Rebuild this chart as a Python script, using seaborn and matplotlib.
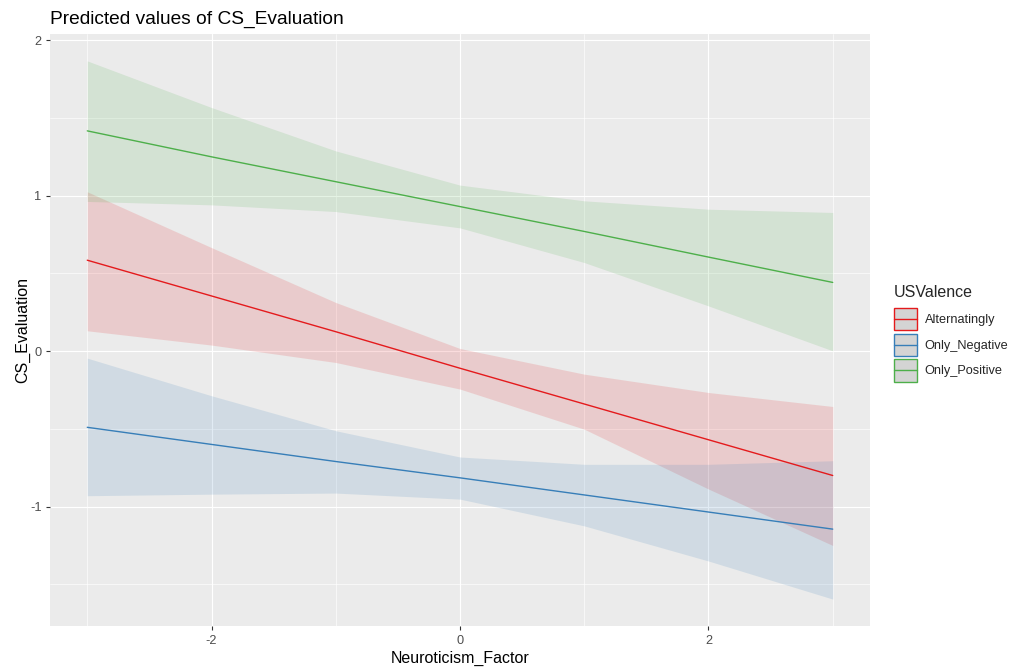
import numpy as np
import pandas as pd
import seaborn as sns
import matplotlib
matplotlib.use("Agg")
import matplotlib.pyplot as plt
from matplotlib.patches import Rectangle
from matplotlib.lines import Line2D
from matplotlib.legend_handler import HandlerBase
from matplotlib.ticker import FixedLocator

# Predicted values with 95% confidence bands, evaluated at integer factor levels
neuroticism = [-3, -2, -1, 0, 1, 2, 3]
groups = ["Alternatingly", "Only_Negative", "Only_Positive"]

pred_alt = [0.585, 0.355, 0.125, -0.110, -0.340, -0.570, -0.800]
low_alt = [0.131, 0.039, -0.073, -0.244, -0.502, -0.887, -1.250]
high_alt = [1.025, 0.666, 0.313, 0.017, -0.148, -0.266, -0.356]

pred_neg = [-0.490, -0.600, -0.710, -0.815, -0.925, -1.035, -1.145]
low_neg = [-0.930, -0.920, -0.913, -0.952, -1.124, -1.350, -1.595]
high_neg = [-0.045, -0.287, -0.512, -0.681, -0.728, -0.728, -0.705]

pred_pos = [1.417, 1.250, 1.090, 0.930, 0.770, 0.605, 0.442]
low_pos = [0.963, 0.941, 0.898, 0.793, 0.570, 0.291, 0.002]
high_pos = [1.867, 1.567, 1.288, 1.068, 0.967, 0.913, 0.892]

colors = {"Alternatingly": "#E41A1C", "Only_Negative": "#377EB8", "Only_Positive": "#4DAF4A"}

frames = []
for g, p, lo, hi in zip(groups,
                        [pred_alt, pred_neg, pred_pos],
                        [low_alt, low_neg, low_pos],
                        [high_alt, high_neg, high_pos]):
    frames.append(pd.DataFrame({"Neuroticism_Factor": neuroticism, "USValence": g,
                                "predicted": p, "conf_low": lo, "conf_high": hi}))
df = pd.concat(frames, ignore_index=True)


class RibbonKey(HandlerBase):
    """Legend key: grey box outlined in the group colour, with the line across it."""

    def create_artists(self, legend, orig_handle, xdescent, ydescent, width,
                       height, fontsize, trans):
        col = orig_handle.get_color()
        rect = Rectangle((-xdescent, -ydescent), width, height,
                         facecolor="#D4D4D4", edgecolor=col, lw=1.0,
                         transform=trans)
        yc = -ydescent + height / 2
        line = Line2D([-xdescent, -xdescent + width], [yc, yc], color=col,
                      lw=1.0, transform=trans)
        return [rect, line]


sns.set_theme(style="darkgrid")
plt.rcParams["font.family"] = ["Liberation Sans", "DejaVu Sans"]
plt.rcParams["axes.unicode_minus"] = False

fig = plt.figure(figsize=(10.11, 6.70), dpi=100)
ax = fig.add_axes([50 / 1011, 1 - 626 / 670, 820 / 1011, 592 / 670])
ax.set_facecolor("#EBEBEB")

# confidence ribbons
for g in groups:
    sub = df[df["USValence"] == g]
    ax.fill_between(sub["Neuroticism_Factor"], sub["conf_low"], sub["conf_high"],
                    color=colors[g], alpha=0.15, lw=0, zorder=2)

# predicted lines
sns.lineplot(data=df, x="Neuroticism_Factor", y="predicted", hue="USValence",
             hue_order=groups, palette=colors, estimator=None, legend=False,
             lw=1.0, ax=ax, zorder=3)

# axis ranges with 5% padding
xmin, xmax = min(neuroticism), max(neuroticism)
xpad = 0.05 * (xmax - xmin)
ymin, ymax = df["conf_low"].min(), df["conf_high"].max()
ypad = 0.05 * (ymax - ymin)
ax.set_xlim(xmin - xpad, xmax + xpad)
ax.set_ylim(ymin - ypad, ymax + ypad)

ax.xaxis.set_major_locator(FixedLocator([-2, 0, 2]))
ax.xaxis.set_minor_locator(FixedLocator([-3, -1, 1, 3]))
ax.yaxis.set_major_locator(FixedLocator([-1, 0, 1, 2]))
ax.yaxis.set_minor_locator(FixedLocator([-1.5, -0.5, 0.5, 1.5]))
ax.grid(which="major", color="white", lw=0.85, zorder=1)
ax.grid(which="minor", color="white", lw=0.45, zorder=1)
ax.set_axisbelow(True)
for s in ax.spines.values():
    s.set_visible(False)

ax.tick_params(which="major", length=3, width=0.8, color="#333333",
               labelcolor="#4D4D4D", labelsize=9.2, pad=3.2,
               bottom=True, left=True)
ax.tick_params(which="minor", length=0)

ax.set_xlabel("Neuroticism_Factor", fontsize=11.5, color="black", labelpad=3)
ax.set_ylabel("CS_Evaluation", fontsize=11.5, color="black", labelpad=0)
ax.set_title("Predicted values of CS_Evaluation", fontsize=13.8, loc="left",
             color="black", pad=7)

handles = [Line2D([], [], color=colors[g]) for g in groups]
leg = fig.legend(handles, groups, title="USValence",
                 handler_map={Line2D: RibbonKey()},
                 loc="upper left", bbox_to_anchor=(889 / 1011, 1 - 280 / 670),
                 frameon=False, fontsize=9.2, title_fontsize=11.5,
                 handlelength=1.8, handleheight=2.3, labelspacing=0.28,
                 handletextpad=0.6, borderaxespad=0)
leg._legend_box.align = "left"
leg._legend_box.sep = 5.5

fig.savefig("out.png", dpi=100, facecolor="white")
